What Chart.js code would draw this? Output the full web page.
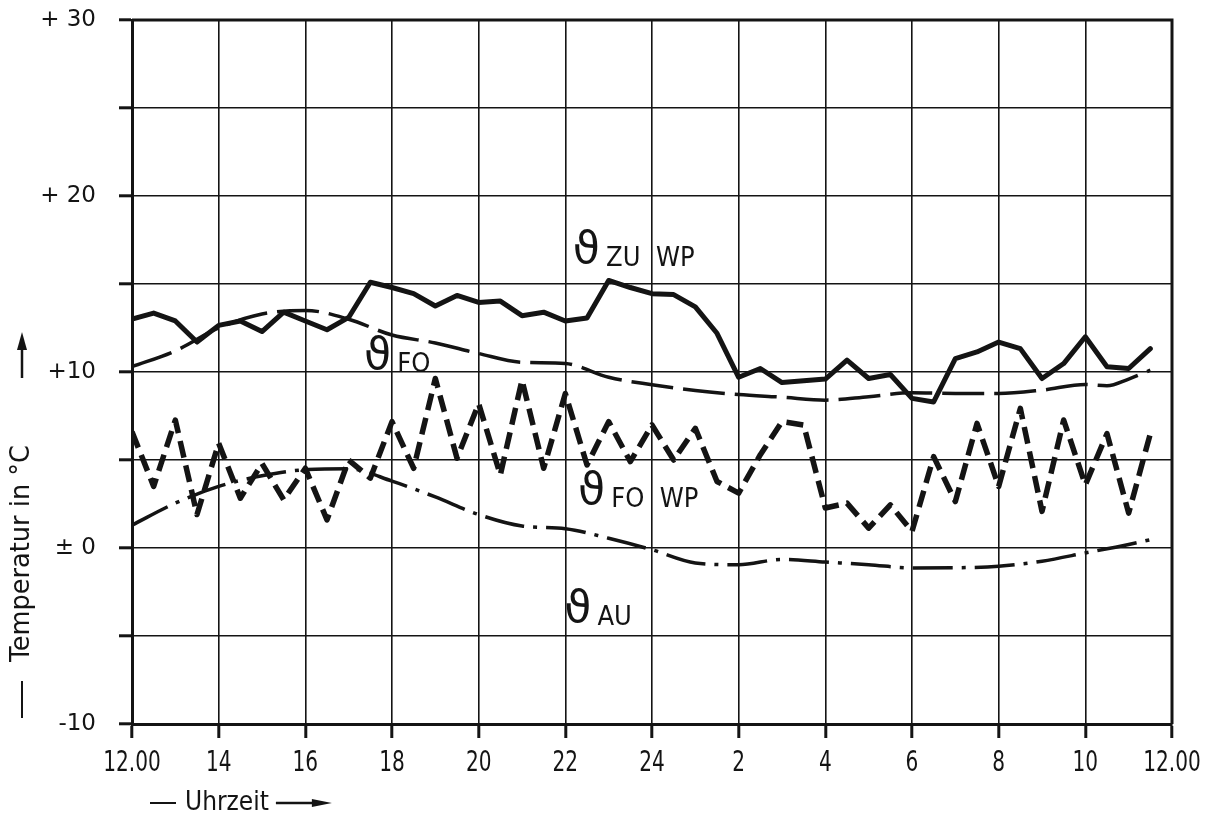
<!DOCTYPE html>
<html>
<head>
<meta charset="utf-8">
<script src="https://cdn.jsdelivr.net/npm/chart.js@4/dist/chart.umd.min.js"></script>
<style>
  html, body { margin: 0; padding: 0; background: #ffffff; }
  #wrap { width: 1217px; height: 827px; }
</style>
</head>
<body>
<div id="wrap"><canvas id="chart" width="1217" height="827"></canvas></div>
<script>
// Time axis: hours after 12.00 noon, ticks every two hours
const xTickHours  = [0, 2, 4, 6, 8, 10, 12, 14, 16, 18, 20, 22, 24];
const xTickLabels = ['12.00', '14', '16', '18', '20', '22', '24', '2', '4', '6', '8', '10', '12.00'];

// Temperature axis labels
const yTickValues = [30, 20, 10, 0, -10];
const yTickLabels = ['+ 30', '+ 20', '+10', '\u00B1 0', '-10'];

// Half-hourly readings (hours after noon)
const halfHours = [0, 0.5, 1, 1.5, 2, 2.5, 3, 3.5, 4, 4.5, 5, 5.5, 6, 6.5, 7, 7.5, 8, 8.5, 9, 9.5,
                   10, 10.5, 11, 11.5, 12, 12.5, 13, 13.5, 14, 14.5, 15, 15.5, 16, 16.5, 17, 17.5,
                   18, 18.5, 19, 19.5, 20, 20.5, 21, 21.5, 22, 22.5, 23, 23.5];

// Supply air after heat pump (ϑ ZU WP), °C
const zuWp = [13.0, 13.35, 12.9, 11.7, 12.65, 12.9, 12.3, 13.4, 12.9, 12.4, 13.1, 15.1, 14.8, 14.45,
              13.75, 14.35, 13.95, 14.03, 13.2, 13.4, 12.9, 13.07, 15.2, 14.8, 14.45, 14.4, 13.7, 12.2,
              9.7, 10.2, 9.4, 9.5, 9.6, 10.67, 9.63, 9.86, 8.5, 8.3, 10.76, 11.14, 11.7, 11.33, 9.63,
              10.48, 12.0, 10.3, 10.2, 11.33];

// Exhaust air after heat pump (ϑ FO WP), °C
const foWp = [6.6, 3.5, 7.27, 1.9, 5.95, 2.83, 4.8, 2.74, 4.53, 1.6, 5.0, 3.97, 7.18, 4.53, 9.63, 5.1,
              8.2, 4.15, 9.54, 4.53, 8.78, 4.72, 7.18, 4.91, 6.99, 5.0, 6.8, 3.78, 3.12, 5.3, 7.18, 6.99,
              2.27, 2.55, 1.13, 2.45, 0.94, 5.19, 2.64, 7.08, 3.5, 7.93, 2.08, 7.27, 3.59, 6.5, 1.98, 6.5];

// Exhaust air (ϑ FO), °C
const foHours = [0, 1, 2, 3, 4, 5, 6, 7, 8, 9, 10, 11, 12, 13, 14, 15, 16, 17, 18, 19, 20, 21, 22, 22.5, 23, 23.5];
const fo      = [10.3, 11.2, 12.5, 13.3, 13.5, 13.0, 12.1, 11.65, 11.05, 10.55, 10.48, 9.7, 9.28, 8.95,
                 8.72, 8.57, 8.4, 8.6, 8.82, 8.78, 8.78, 8.97, 9.29, 9.22, 9.6, 10.1];

// Outdoor air (ϑ AU), °C
const auHours = [0, 1, 2, 3, 4, 5, 6, 7, 8, 9, 10, 11, 12, 13, 14, 15, 16, 17, 18, 19, 20, 21, 22, 23, 23.5];
const au      = [1.3, 2.55, 3.5, 4.1, 4.45, 4.5, 3.8, 2.9, 1.9, 1.25, 1.1, 0.55, -0.1, -0.85, -0.95,
                 -0.65, -0.8, -0.95, -1.13, -1.12, -1.04, -0.75, -0.28, 0.2, 0.47];

const pts = (xs, ys) => xs.map((x, i) => ({ x: x, y: ys[i] }));

const INK = '#141414';
const COND = '"DejaVu Sans Condensed", "DejaVu Sans", sans-serif';

// Curve name tags, placed in data coordinates (hour, °C) at the text baseline
const curveTags = [
  { sub: 'ZU  WP', h: 10.22, t: 16.0 },
  { sub: 'FO',     h: 5.40,  t: 10.0 },
  { sub: 'FO  WP', h: 10.34, t: 2.35 },
  { sub: 'AU',     h: 10.02, t: -4.4 }
];

// draw text squeezed horizontally by factor sx
function squeezed(c, text, x, y, sx) {
  c.save();
  c.translate(x, y);
  c.scale(sx, 1);
  c.fillText(text, 0, 0);
  c.restore();
}

const framePlugin = {
  id: 'frame',
  afterDatasetsDraw(chart) {
    const a = chart.chartArea, c = chart.ctx;
    c.save();
    c.strokeStyle = INK;
    c.lineWidth = 3;
    c.beginPath();
    c.moveTo(a.left, a.top);
    c.lineTo(a.right, a.top);
    c.lineTo(a.right, a.bottom);
    c.stroke();
    c.restore();
  }
};

const textPlugin = {
  id: 'texts',
  afterDraw(chart) {
    const c = chart.ctx, xs = chart.scales.x, ys = chart.scales.y;
    c.save();
    c.fillStyle = INK;
    c.strokeStyle = INK;

    // hour labels under the time axis, narrow lettering
    c.font = '29px ' + COND;
    c.textAlign = 'center';
    c.textBaseline = 'middle';
    xTickHours.forEach((h, i) => {
      squeezed(c, xTickLabels[i], xs.getPixelForValue(h), 763, 0.77);
    });

    // curve tags: script theta with lowered index
    c.textAlign = 'left';
    c.textBaseline = 'alphabetic';
    curveTags.forEach(tag => {
      const px = xs.getPixelForValue(tag.h);
      const py = ys.getPixelForValue(tag.t);
      c.font = '44px "DejaVu Sans", sans-serif';
      c.fillText('\u03D1', px - 2, py - 3);
      const w = c.measureText('\u03D1').width;
      c.font = '27px ' + COND;
      c.fillText(tag.sub, px + w + 4, py);
    });

    // time axis title with arrow
    c.font = '26px ' + COND;
    c.textAlign = 'left';
    c.textBaseline = 'middle';
    const ty = 803;
    c.lineWidth = 2;
    c.beginPath(); c.moveTo(150, ty); c.lineTo(176, ty); c.stroke();
    c.fillText('Uhrzeit', 185, ty);
    const tw = c.measureText('Uhrzeit').width;
    let ax = 185 + tw + 7;
    c.lineWidth = 2.5;
    c.beginPath(); c.moveTo(ax, ty); c.lineTo(ax + 40, ty); c.stroke();
    c.beginPath(); c.moveTo(ax + 36, ty - 4); c.lineTo(ax + 56, ty); c.lineTo(ax + 36, ty + 4); c.closePath(); c.fill();

    // temperature axis title, rotated (x' = -y)
    c.translate(22, 0);
    c.rotate(-Math.PI / 2);
    c.font = '27px ' + COND;
    c.textAlign = 'left';
    c.lineWidth = 2;
    c.beginPath(); c.moveTo(-718, 0); c.lineTo(-681, 0); c.stroke();
    const label = 'Temperatur in \u00B0C';
    const vw = c.measureText(label).width;
    squeezed(c, label, -662, 0, 217 / vw);
    c.lineWidth = 2.5;
    c.beginPath(); c.moveTo(-378, 0); c.lineTo(-346, 0); c.stroke();
    c.beginPath(); c.moveTo(-350, -5); c.lineTo(-332, 0); c.lineTo(-350, 5); c.closePath(); c.fill();
    c.restore();
  }
};

new Chart(document.getElementById('chart'), {
  type: 'line',
  data: {
    datasets: [
      {
        label: 'ZU WP',
        data: pts(halfHours, zuWp),
        borderColor: INK, borderWidth: 5, tension: 0,
        pointRadius: 0, borderJoinStyle: 'round', borderCapStyle: 'round'
      },
      {
        label: 'FO',
        data: pts(foHours, fo),
        borderColor: INK, borderWidth: 3.5, cubicInterpolationMode: 'monotone',
        borderDash: [42, 10], pointRadius: 0
      },
      {
        label: 'FO WP',
        data: pts(halfHours, foWp),
        borderColor: INK, borderWidth: 5.5, tension: 0,
        borderDash: [17, 8], pointRadius: 0, borderJoinStyle: 'round'
      },
      {
        label: 'AU',
        data: pts(auHours, au),
        borderColor: INK, borderWidth: 3.5, cubicInterpolationMode: 'monotone',
        borderDash: [40, 9, 4, 9], pointRadius: 0
      }
    ]
  },
  options: {
    responsive: false,
    animation: false,
    devicePixelRatio: 1,
    layout: { padding: { left: 0, right: 45, top: 20, bottom: 0 } },
    plugins: { legend: { display: false }, tooltip: { enabled: false } },
    scales: {
      x: {
        type: 'linear', min: 0, max: 24,
        afterBuildTicks: s => { s.ticks = xTickHours.map(v => ({ value: v })); },
        afterFit: s => { s.height = 103; s.paddingLeft = 0; s.paddingRight = 0; },
        ticks: { display: false },
        grid: { color: INK, lineWidth: 1.6, tickLength: 14, tickWidth: 3 },
        border: { color: INK, width: 3 }
      },
      y: {
        min: -10, max: 30,
        afterBuildTicks: s => {
          s.ticks = [-10, -5, 0, 5, 10, 15, 20, 25, 30].map(v => ({ value: v }));
        },
        afterFit: s => { s.width = 132; s.paddingTop = 0; s.paddingBottom = 0; },
        ticks: {
          padding: 23, color: INK,
          font: { family: '"DejaVu Sans", sans-serif', size: 23 },
          callback: (v) => {
            const i = yTickValues.indexOf(v);
            return i >= 0 ? yTickLabels[i] : '';
          }
        },
        grid: { color: INK, lineWidth: 1.6, tickLength: 13, tickWidth: 3 },
        border: { color: INK, width: 3 }
      }
    }
  },
  plugins: [framePlugin, textPlugin]
});
</script>
</body>
</html>
